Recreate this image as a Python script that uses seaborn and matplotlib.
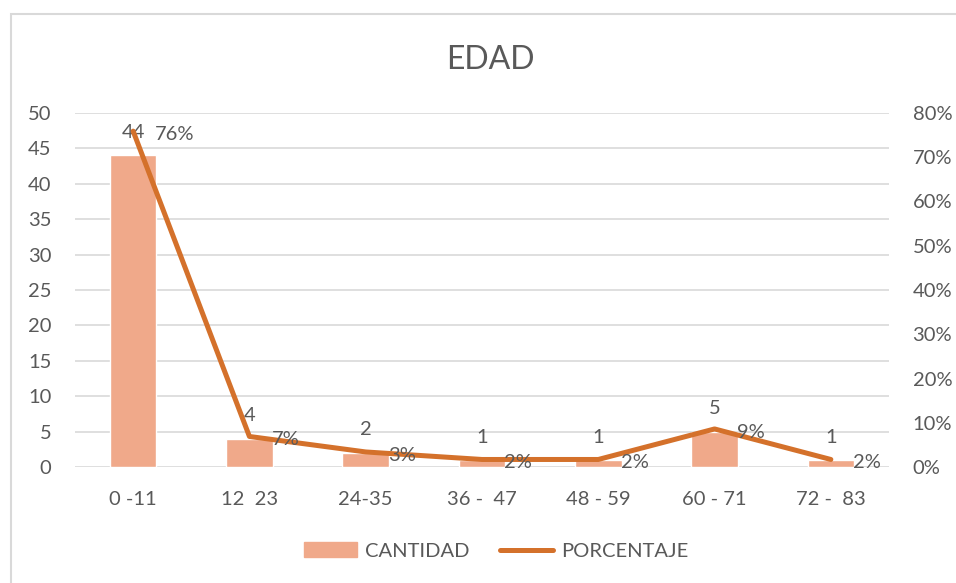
import numpy as np
import matplotlib.pyplot as plt
import seaborn as sns
from matplotlib.patches import Patch, Rectangle
from matplotlib.lines import Line2D

# datos
categorias = ['0 -11', '12  23', '24-35', '36 -  47', '48 - 59', '60 - 71', '72 -  83']
cantidad = [44, 4, 2, 1, 1, 5, 1]
porcentaje = [0.759, 0.069, 0.034, 0.017, 0.017, 0.086, 0.017]

color_barra = '#F0A98A'
color_linea = '#D4712B'
gris = '#595959'

sns.set_style('white')
plt.rcParams['font.family'] = ['Lato', 'DejaVu Sans']

fig = plt.figure(figsize=(9.56, 5.83), dpi=100)
ax = fig.add_axes([75/956, 1-467/583, (889-75)/956, (467-113)/583])

sns.barplot(x=categorias, y=cantidad, color=color_barra, width=0.4,
            saturation=1, ax=ax, zorder=2)
ax.set_ylim(0, 50)
ax.set_xlim(-0.5, len(categorias)-0.5)
ax.set_yticks(np.arange(0, 51, 5))
ax.yaxis.grid(True, color='#D9D9D9', lw=1.2, zorder=0)
ax.set_axisbelow(True)
for s in ax.spines.values():
    s.set_visible(False)
ax.tick_params(axis='both', length=0, labelsize=14.5, labelcolor=gris)
ax.tick_params(axis='y', pad=17)
ax.tick_params(axis='x', pad=17)
ax.set_xlabel('')
ax.set_ylabel('')

for i, v in enumerate(cantidad):
    ax.annotate(str(v), (i, v), xytext=(0, 16.5), textcoords='offset points',
                ha='center', va='center', fontsize=14.5, color=gris)

ax2 = ax.twinx()
sns.lineplot(x=np.arange(len(porcentaje)), y=porcentaje, color=color_linea,
             lw=3.6, ax=ax2, sort=False)
ax2.set_ylim(0, 0.8)
ax2.set_yticks(np.arange(0, 0.81, 0.1))
ax2.set_yticklabels([f'{t:.0%}' for t in np.arange(0, 0.81, 0.1)])
for s in ax2.spines.values():
    s.set_visible(False)
ax2.tick_params(axis='y', length=0, labelsize=14.5, labelcolor=gris, pad=17)
ax2.set_ylabel('')

for i, v in enumerate(porcentaje):
    ax2.annotate(f'{v:.0%}', (i, v), xytext=(16, -2.5), textcoords='offset points',
                 ha='left', va='center', fontsize=14.5, color=gris)

fig.text(490/956, 1-60/583, 'EDAD', ha='center', va='center', fontsize=23, color=gris)

handles = [Patch(color=color_barra, label='CANTIDAD'),
           Line2D([0], [0], color=color_linea, lw=3.6, label='PORCENTAJE')]
fig.legend(handles=handles, loc='center', bbox_to_anchor=(0.519, 1-551/583), ncol=2,
           frameon=False, fontsize=14.5, labelcolor=gris, handlelength=2.6,
           columnspacing=1.55, handletextpad=0.4)

fig.patches.append(Rectangle((11/956, -0.1), 1.2, 1.1-14/583, transform=fig.transFigure,
                             fill=False, edgecolor='#D9D9D9', lw=1.5))

fig.savefig('out.png', dpi=100)
